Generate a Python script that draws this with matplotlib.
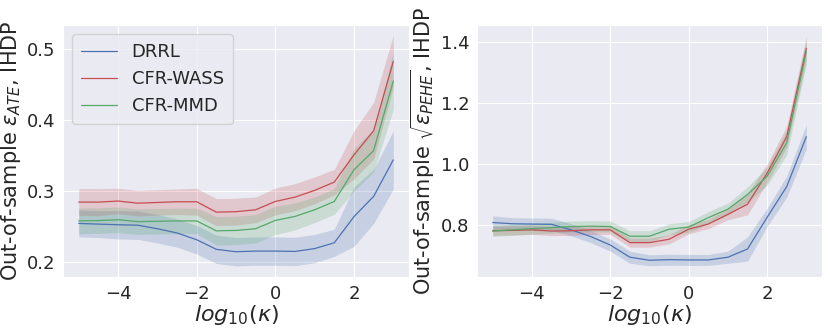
import matplotlib
matplotlib.use("Agg")
import matplotlib.pyplot as plt
import numpy as np
import seaborn as sns

sns.set_style("darkgrid")
plt.rcParams["font.family"] = ["DejaVu Sans"]

kappa = [-5, -4.5, -4, -3.5, -3, -2.5, -2, -1.5, -1, -0.5, 0, 0.5, 1, 1.5, 2, 2.5, 3]

# out-of-sample eps_ATE (mean, band half-width)
ate_drrl = [0.2545, 0.2535, 0.2526, 0.252, 0.247, 0.241, 0.2315, 0.218, 0.2146, 0.2155, 0.2155, 0.215, 0.219, 0.2272, 0.264, 0.2925, 0.344]
ate_drrl_sd = [0.019, 0.019, 0.02, 0.02, 0.02, 0.02, 0.02, 0.02, 0.02, 0.02, 0.02, 0.02, 0.02, 0.019, 0.042, 0.038, 0.041]
ate_wass = [0.2845, 0.2845, 0.286, 0.283, 0.284, 0.285, 0.285, 0.2704, 0.271, 0.2737, 0.2854, 0.2915, 0.301, 0.3127, 0.351, 0.385, 0.4826]
ate_wass_sd = [0.019, 0.019, 0.018, 0.018, 0.018, 0.018, 0.019, 0.019, 0.019, 0.018, 0.019, 0.019, 0.019, 0.018, 0.034, 0.04, 0.037]
ate_mmd = [0.258, 0.2585, 0.2596, 0.257, 0.2575, 0.258, 0.258, 0.244, 0.2446, 0.247, 0.2587, 0.2643, 0.2737, 0.2854, 0.33, 0.357, 0.455]
ate_mmd_sd = [0.018, 0.018, 0.018, 0.018, 0.018, 0.018, 0.018, 0.02, 0.02, 0.02, 0.02, 0.019, 0.018, 0.018, 0.03, 0.03, 0.04]

# out-of-sample sqrt(eps_PEHE)
pehe_drrl = [0.808, 0.804, 0.803, 0.802, 0.784, 0.762, 0.734, 0.694, 0.684, 0.686, 0.685, 0.685, 0.694, 0.721, 0.825, 0.926, 1.09]
pehe_drrl_sd = [0.022, 0.02, 0.02, 0.02, 0.02, 0.02, 0.02, 0.02, 0.018, 0.018, 0.018, 0.018, 0.02, 0.04, 0.03, 0.035, 0.04]
pehe_wass = [0.781, 0.782, 0.784, 0.78, 0.781, 0.784, 0.784, 0.742, 0.742, 0.753, 0.786, 0.803, 0.835, 0.868, 0.97, 1.09, 1.38]
pehe_wass_sd = [0.015, 0.015, 0.015, 0.015, 0.015, 0.015, 0.015, 0.015, 0.015, 0.015, 0.015, 0.015, 0.018, 0.035, 0.03, 0.035, 0.04]
pehe_mmd = [0.78, 0.784, 0.788, 0.791, 0.795, 0.796, 0.795, 0.763, 0.763, 0.786, 0.793, 0.824, 0.852, 0.90, 0.96, 1.07, 1.37]
pehe_mmd_sd = [0.018, 0.018, 0.018, 0.018, 0.018, 0.018, 0.018, 0.018, 0.018, 0.018, 0.018, 0.02, 0.02, 0.025, 0.03, 0.04, 0.04]

labels = ["DRRL", "CFR-WASS", "CFR-MMD"]
colors = ["#4c72b0", "#c44e52", "#55a868"]

fig = plt.figure(figsize=(8.3, 3.32), dpi=100)
ax1 = fig.add_axes([63 / 830, 55 / 332, 346 / 830, 252 / 332])
ax2 = fig.add_axes([477 / 830, 55 / 332, 345 / 830, 252 / 332])

x = np.array(kappa)
for ax, series in [
    (ax1, [(ate_drrl, ate_drrl_sd), (ate_wass, ate_wass_sd), (ate_mmd, ate_mmd_sd)]),
    (ax2, [(pehe_drrl, pehe_drrl_sd), (pehe_wass, pehe_wass_sd), (pehe_mmd, pehe_mmd_sd)]),
]:
    for (m, s), lab, c in zip(series, labels, colors):
        m, s = np.array(m), np.array(s)
        ax.plot(x, m, color=c, linewidth=0.9, label=lab)
        ax.fill_between(x, m - s, m + s, color=c, alpha=0.22, linewidth=0)
    ax.set_xticks([-4, -2, 0, 2])
    ax.tick_params(labelsize=13, pad=2)
    ax.set_xlabel(r"$log_{10}(\kappa)$", fontsize=16, labelpad=0)

ax1.set_ylim(0.179, 0.534)
ax1.set_yticks([0.2, 0.3, 0.4, 0.5])
ax1.set_ylabel(r"Out-of-sample $\epsilon_{ATE}$, IHDP", fontsize=15, labelpad=3)
ax1.legend(loc="upper left", fontsize=13, handlelength=2.0, borderpad=0.5)

ax2.set_ylim(0.629, 1.457)
ax2.set_yticks([0.8, 1.0, 1.2, 1.4])
ax2.set_ylabel(r"Out-of-sample $\sqrt{\epsilon_{PEHE}}$, IHDP", fontsize=15, labelpad=3)

fig.savefig("out.png", dpi=100)
